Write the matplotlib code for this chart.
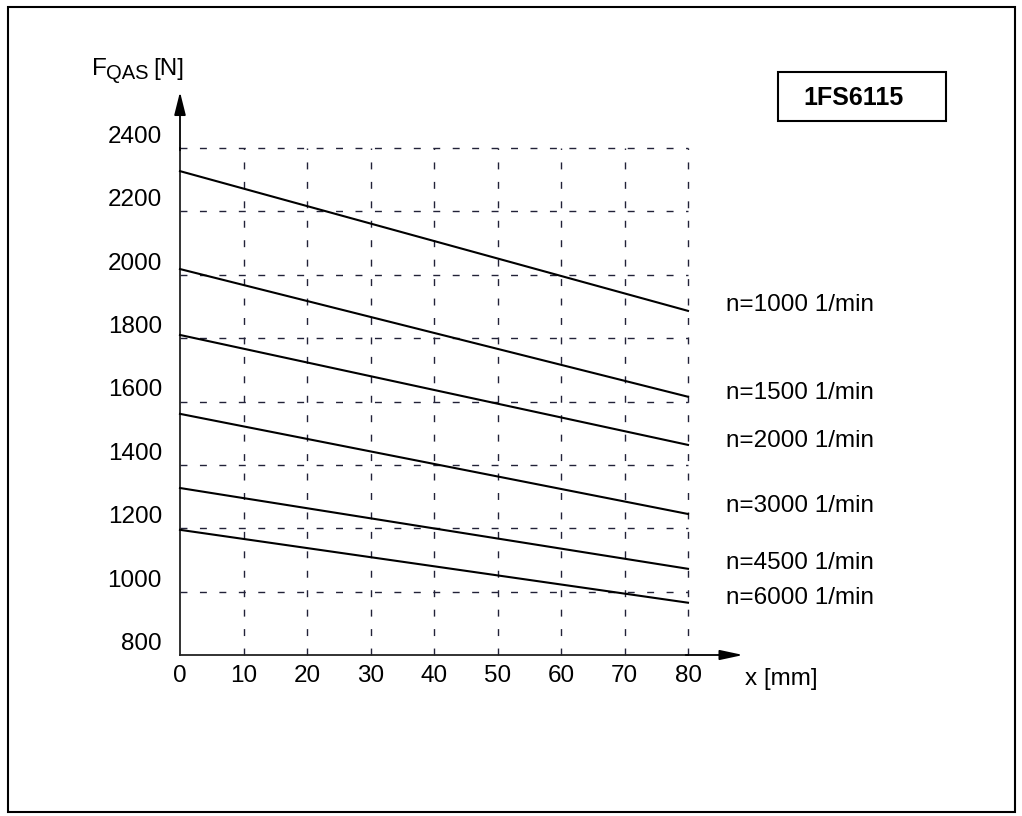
import matplotlib
matplotlib.use("Agg")
import matplotlib.pyplot as plt
from matplotlib.patches import Rectangle

plt.rcParams['font.family'] = ['Liberation Sans', 'DejaVu Sans']

# Data
x_vals = [0, 80]
series_labels = ["n=1000 1/min", "n=1500 1/min", "n=2000 1/min",
                 "n=3000 1/min", "n=4500 1/min", "n=6000 1/min"]
f_1000 = [2327, 1886]
f_1500 = [2018, 1615]
f_2000 = [1810, 1463]
f_3000 = [1561, 1245]
f_4500 = [1327, 1072]
f_6000 = [1195, 965]
series = [f_1000, f_1500, f_2000, f_3000, f_4500, f_6000]
label_y = [1904, 1627, 1475, 1270, 1090, 980]
x_ticks = [0, 10, 20, 30, 40, 50, 60, 70, 80]
y_ticks = [800, 1000, 1200, 1400, 1600, 1800, 2000, 2200, 2400]

fig = plt.figure(figsize=(10.22, 8.16), dpi=100)
ax = fig.add_axes([180/1022, 1 - 655/816, 508/1022, 507/816])
ax.set_xlim(0, 80)
ax.set_ylim(800, 2400)

grid_kw = dict(color='#222238', lw=1.0, ls=(0, (5, 9)), zorder=1, clip_on=False)
for xv in x_ticks[1:]:
    ax.axvline(xv, **grid_kw)
for yv in y_ticks[1:]:
    ax.axhline(yv, **grid_kw)

for ys in series:
    ax.plot(x_vals, ys, color='black', lw=1.5, zorder=3, clip_on=False)

for lab, ly in zip(series_labels, label_y):
    ax.annotate(lab, xy=(80, ly), xytext=(27, 0), textcoords='offset points',
                fontsize=17.5, va='center', ha='left', annotation_clip=False)

for sp in ['top', 'right']:
    ax.spines[sp].set_visible(False)
for sp in ['left', 'bottom']:
    ax.spines[sp].set_linewidth(1.3)
    ax.spines[sp].set_color('#222222')

ax.set_xticks(x_ticks)
ax.set_xticklabels([str(v) for v in x_ticks], fontsize=17.5)
ax.tick_params(axis='x', length=0, pad=7)
ax.set_yticks(y_ticks)
ax.set_yticklabels([])
ax.tick_params(axis='y', length=0)
for yv in y_ticks:
    ax.annotate(str(yv), xy=(0, yv), xytext=(-13, 8), textcoords='offset points',
                fontsize=17.5, ha='right', va='center', annotation_clip=False)

# axis arrows
ax.annotate('', xy=(0, 1.116), xytext=(0, 0.99), xycoords='axes fraction',
            arrowprops=dict(arrowstyle='-|>,head_length=1.4,head_width=0.35',
                            color='black', lw=1.3), annotation_clip=False)
ax.annotate('', xy=(1.114, 0), xytext=(0.99, 0), xycoords='axes fraction',
            arrowprops=dict(arrowstyle='-|>,head_length=1.4,head_width=0.3',
                            color='black', lw=1.3), annotation_clip=False)

# y-axis title: F with subscript QAS, then [N]
fig.text(92/1022, 1 - 75/816, 'F', fontsize=17.5, ha='left', va='baseline')
fig.text(106/1022, 1 - 79/816, 'QAS', fontsize=14.5, ha='left', va='baseline')
fig.text(153/1022, 1 - 75/816, '[N]', fontsize=17.5, ha='left', va='baseline')
fig.text(745/1022, 1 - 679/816, 'x [mm]', fontsize=17.5, ha='left', va='center')

# title box
fig.patches.append(Rectangle((778/1022, 1 - 121/816), 168/1022, 49/816,
                             transform=fig.transFigure, fill=False,
                             ec='black', lw=1.5))
fig.text(853/1022, 1 - 98/816, '1FS6115', fontsize=18, fontweight='bold',
         ha='center', va='center')

# outer border
fig.patches.append(Rectangle((8/1022, 1 - 812/816), 1007/1022, 805/816,
                             transform=fig.transFigure, fill=False,
                             ec='black', lw=1.5))

fig.savefig('out.png', dpi=100)
